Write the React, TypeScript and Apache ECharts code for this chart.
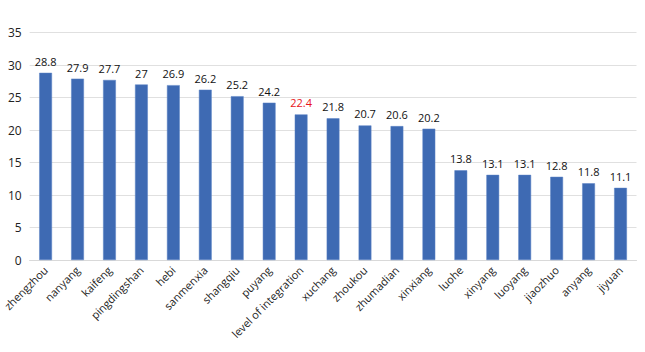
import React, { useEffect, useRef } from "react";
import * as echarts from "echarts";

const categories = [
  "zhengzhou", "nanyang", "kaifeng", "pingdingshan", "hebi", "sanmenxia", "shangqiu",
  "puyang", "level of integration", "xuchang", "zhoukou", "zhumadian", "xinxiang",
  "luohe", "xinyang", "luoyang", "jiaozhuo", "anyang", "jiyuan",
];
const values = [28.8, 27.9, 27.7, 27, 26.9, 26.2, 25.2, 24.2, 22.4, 21.8, 20.7, 20.6, 20.2, 13.8, 13.1, 13.1, 12.8, 11.8, 11.1];
const highlighted = "level of integration";

export default function App() {
  const ref = useRef<HTMLDivElement>(null);
  useEffect(() => {
    const chart = echarts.init(ref.current!, null, { renderer: "svg" });
    const font = "'Open Sans', 'Liberation Sans', sans-serif";
    chart.setOption({
      animation: false,
      grid: { left: 27.5, right: 8.5, top: 32.5, bottom: 92 },
      xAxis: {
        type: "category",
        data: categories,
        axisTick: { show: false },
        axisLine: { lineStyle: { color: "#d9d9d9", width: 1 } },
        axisLabel: { rotate: 45, interval: 0, color: "#222", fontSize: 11, fontFamily: font, margin: 8 },
      },
      yAxis: {
        type: "value",
        min: 0,
        max: 35,
        interval: 5,
        axisLine: { show: false },
        axisTick: { show: false },
        splitLine: { lineStyle: { color: "#e0e0e0" } },
        axisLabel: { color: "#222", fontSize: 12, fontFamily: font, margin: 8 },
      },
      series: [
        {
          type: "bar",
          barWidth: "40%",
          data: values.map((v, i) => ({
            value: v,
            label: categories[i] === highlighted ? { color: "#e8141b" } : undefined,
          })),
          itemStyle: { color: "#3e6ab3", borderColor: "#5a82c4", borderWidth: 0.5 },
          label: { show: true, position: "top", color: "#111", fontSize: 11, fontFamily: font, distance: 6 },
        },
      ],
    });
    return () => chart.dispose();
  }, []);
  return <div ref={ref} style={{ width: 645, height: 352, position: "absolute", left: 0, top: 0 }} />;
}
